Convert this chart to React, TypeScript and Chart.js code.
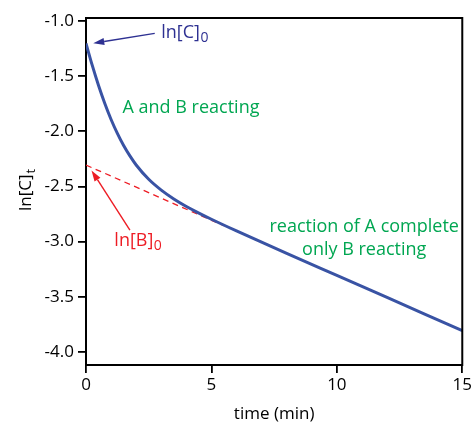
import React, { useEffect, useRef } from "react";
import { Chart, registerables } from "chart.js";

Chart.register(...registerables);

// ---- data ----
const timeMin = [0, 0.25, 0.5, 0.75, 1, 1.25, 1.5, 1.75, 2, 2.5, 3, 3.5, 4, 4.5, 5, 6, 7, 8, 10, 12, 15];
const lnC = [-1.203, -1.403, -1.585, -1.748, -1.893, -2.019, -2.129, -2.223, -2.305, -2.435, -2.533, -2.613, -2.681, -2.741, -2.797, -2.903, -3.005, -3.106, -3.306, -3.506, -3.806];
const extrapTime = [0, 5.5];
const extrapLnB = [-2.306, -2.856];
const xTickValues = [0, 5, 10, 15];
const yTickValues = [-4.0, -3.5, -3.0, -2.5, -2.0, -1.5, -1.0];
const xRange = [0, 15];
const yRange = [-4.118, -0.973];

const xTitle = "time (min)";
const yTitleMain = "ln[C]";
const yTitleSub = "t";

// annotation texts (positions in data units)
const labelC0 = { main: "ln[C]", sub: "0", t: 3.0, v: -1.151 };
const arrowC0 = { from: [2.74, -1.112], to: [0.29, -1.202] };
const labelB0 = { main: "ln[B]", sub: "0", t: 1.13, v: -3.037 };
const arrowB0 = { from: [1.75, -2.895], to: [0.22, -2.355] };
const phaseLabels = [
  { text: "A and B reacting", t: 1.456, v: -1.837, align: "left" },
  { text: "reaction of A complete", t: 11.09, v: -2.91, align: "center" },
  { text: "only B reacting", t: 11.09, v: -3.121, align: "center" },
];

const BLUE_LINE = "#3953a4";
const BLUE_TEXT = "#2e3192";
const GREEN = "#00a651";
const RED = "#ed1c24";
const FONT = "'Open Sans', 'Noto Sans', sans-serif";

function drawArrow(ctx: CanvasRenderingContext2D, x1: number, y1: number, x2: number, y2: number, color: string) {
  const ang = Math.atan2(y2 - y1, x2 - x1);
  const headLen = 11;
  const headW = 3.5;
  const bx = x2 - headLen * Math.cos(ang);
  const by = y2 - headLen * Math.sin(ang);
  ctx.strokeStyle = color;
  ctx.fillStyle = color;
  ctx.lineWidth = 1.4;
  ctx.beginPath();
  ctx.moveTo(x1, y1);
  ctx.lineTo(bx, by);
  ctx.stroke();
  ctx.beginPath();
  ctx.moveTo(x2, y2);
  ctx.lineTo(bx + headW * Math.sin(ang), by - headW * Math.cos(ang));
  ctx.lineTo(bx - headW * Math.sin(ang), by + headW * Math.cos(ang));
  ctx.closePath();
  ctx.fill();
}

function drawSubText(ctx: CanvasRenderingContext2D, main: string, sub: string, x: number, y: number, color: string, size: number) {
  ctx.fillStyle = color;
  ctx.textAlign = "left";
  ctx.textBaseline = "alphabetic";
  ctx.font = `${size}px ${FONT}`;
  ctx.fillText(main, x, y);
  const w = ctx.measureText(main).width;
  ctx.font = `${Math.round(size * 0.78)}px ${FONT}`;
  ctx.fillText(sub, x + w + 0.5, y + 4.5);
}

const annotationsPlugin = {
  id: "annotations",
  afterDraw(chart: any) {
    const { ctx, chartArea, scales } = chart;
    const xs = scales.x;
    const ys = scales.y;
    ctx.save();
    // top and right frame lines
    ctx.strokeStyle = "#000";
    ctx.lineWidth = 2;
    ctx.beginPath();
    ctx.moveTo(chartArea.left - 1, chartArea.top);
    ctx.lineTo(chartArea.right, chartArea.top);
    ctx.lineTo(chartArea.right, chartArea.bottom + 1);
    ctx.stroke();

    // arrows
    drawArrow(ctx, xs.getPixelForValue(arrowC0.from[0]), ys.getPixelForValue(arrowC0.from[1]),
      xs.getPixelForValue(arrowC0.to[0]), ys.getPixelForValue(arrowC0.to[1]), BLUE_TEXT);
    drawArrow(ctx, xs.getPixelForValue(arrowB0.from[0]), ys.getPixelForValue(arrowB0.from[1]),
      xs.getPixelForValue(arrowB0.to[0]), ys.getPixelForValue(arrowB0.to[1]), RED);

    // subscripted labels
    drawSubText(ctx, labelC0.main, labelC0.sub, xs.getPixelForValue(labelC0.t), ys.getPixelForValue(labelC0.v), BLUE_TEXT, 18);
    drawSubText(ctx, labelB0.main, labelB0.sub, xs.getPixelForValue(labelB0.t), ys.getPixelForValue(labelB0.v), RED, 18);

    // phase labels
    ctx.font = `18px ${FONT}`;
    ctx.fillStyle = GREEN;
    ctx.textBaseline = "alphabetic";
    for (const p of phaseLabels) {
      ctx.textAlign = p.align as CanvasTextAlign;
      ctx.fillText(p.text, xs.getPixelForValue(p.t), ys.getPixelForValue(p.v));
    }

    // x axis title
    ctx.fillStyle = "#000";
    ctx.font = `17px ${FONT}`;
    ctx.textAlign = "center";
    ctx.fillText(xTitle, (chartArea.left + chartArea.right) / 2, 419);

    // y axis title (rotated, with subscript)
    ctx.save();
    ctx.translate(31, 190);
    ctx.rotate(-Math.PI / 2);
    ctx.font = `17px ${FONT}`;
    const wMain = ctx.measureText(yTitleMain).width;
    ctx.font = `13px ${FONT}`;
    const wSub = ctx.measureText(yTitleSub).width;
    const total = wMain + wSub + 1;
    ctx.fillStyle = "#000";
    ctx.textAlign = "left";
    ctx.font = `17px ${FONT}`;
    ctx.fillText(yTitleMain, -total / 2, 0);
    ctx.font = `13px ${FONT}`;
    ctx.fillText(yTitleSub, -total / 2 + wMain + 1, 4);
    ctx.restore();

    ctx.restore();
  },
};

export default function App() {
  const canvasRef = useRef<HTMLCanvasElement | null>(null);

  useEffect(() => {
    if (!canvasRef.current) return;
    const chart = new Chart(canvasRef.current, {
      type: "line",
      data: {
        datasets: [
          {
            label: "ln[C]t",
            data: timeMin.map((t, i) => ({ x: t, y: lnC[i] })),
            borderColor: BLUE_LINE,
            borderWidth: 3,
            pointRadius: 0,
            cubicInterpolationMode: "monotone",
            fill: false,
          },
          {
            label: "ln[B] extrapolation",
            data: extrapTime.map((t, i) => ({ x: t, y: extrapLnB[i] })),
            borderColor: RED,
            borderWidth: 1.3,
            borderDash: [6, 4.5],
            pointRadius: 0,
            fill: false,
          },
        ],
      },
      options: {
        animation: false,
        responsive: false,
        maintainAspectRatio: false,
        layout: { padding: { left: 0, top: 18, right: 10, bottom: 0 } },
        plugins: {
          legend: { display: false },
          tooltip: { enabled: false },
        },
        scales: {
          x: {
            type: "linear",
            min: xRange[0],
            max: xRange[1],
            afterBuildTicks: (scale: any) => {
              scale.ticks = xTickValues.map((v) => ({ value: v }));
            },
            afterFit: (scale: any) => {
              scale.height = 58;
            },
            ticks: {
              color: "#000",
              font: { family: FONT, size: 17 },
              padding: 2,
              maxRotation: 0,
              autoSkip: false,
              callback: (v: any) => String(v),
            },
            grid: {
              display: true,
              drawOnChartArea: false,
              drawTicks: true,
              tickLength: 8,
              color: "#000",
              lineWidth: 1.8,
            },
            border: { display: true, color: "#000", width: 2 },
          },
          y: {
            type: "linear",
            min: yRange[0],
            max: yRange[1],
            afterBuildTicks: (scale: any) => {
              scale.ticks = yTickValues.map((v) => ({ value: v }));
            },
            afterFit: (scale: any) => {
              scale.width = 86;
            },
            ticks: {
              color: "#000",
              font: { family: FONT, size: 17 },
              padding: 4,
              autoSkip: false,
              callback: (v: any) => Number(v).toFixed(1),
            },
            grid: {
              display: true,
              drawOnChartArea: false,
              drawTicks: true,
              tickLength: 8,
              color: "#000",
              lineWidth: 1.8,
            },
            border: { display: true, color: "#000", width: 2 },
          },
        },
      },
      plugins: [annotationsPlugin],
    } as any);
    return () => chart.destroy();
  }, []);

  return (
    <div style={{ position: "absolute", left: 0, top: 0, width: 474, height: 423, background: "#fff" }}>
      <canvas ref={canvasRef} width={474} height={423} style={{ display: "block" }} />
    </div>
  );
}
